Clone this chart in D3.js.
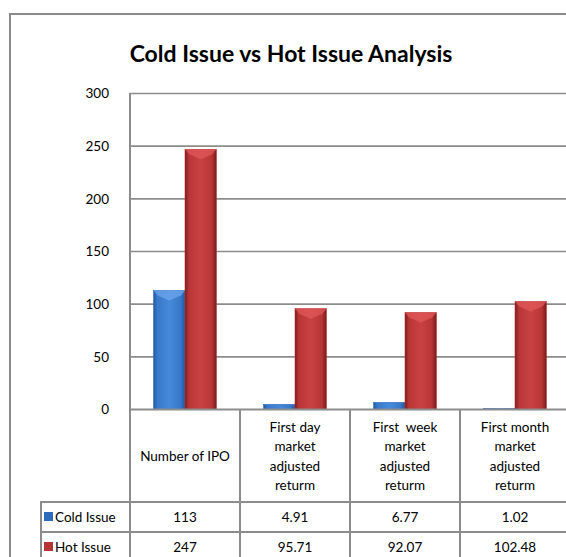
<!DOCTYPE html>
<html>
<head>
<meta charset="utf-8">
<script src="https://cdn.jsdelivr.net/npm/d3@7"></script>
<style>
  body { margin: 0; background: #fff; overflow: hidden; }
  text { font-family: Lato, "Open Sans", sans-serif; fill: #000; }
</style>
</head>
<body>
<div id="chart"></div>
<script>
// chart data
var categories = ["Number of IPO", "First day market adjusted returm",
                  "First  week market adjusted returm", "First month market adjusted returm"];
var headerLines = [["Number of IPO"],
                   ["First day", "market", "adjusted", "returm"],
                   ["First  week", "market", "adjusted", "returm"],
                   ["First month", "market", "adjusted", "returm"]];
var seriesNames = ["Cold Issue", "Hot Issue"];
var coldIssue = [113, 4.91, 6.77, 1.02];
var hotIssue = [247, 95.71, 92.07, 102.48];
var coldLabels = ["113", "4.91", "6.77", "1.02"];
var hotLabels = ["247", "95.71", "92.07", "102.48"];
var yTicks = [0, 50, 100, 150, 200, 250, 300];

var w = 566, h = 557;
var svg = d3.select("#chart").append("svg")
  .attr("width", w).attr("height", h);

var defs = svg.append("defs");
function grad(id, dark, mid, light) {
  var g = defs.append("linearGradient").attr("id", id)
    .attr("x1", 0).attr("x2", 1).attr("y1", 0).attr("y2", 0);
  g.append("stop").attr("offset", "0%").attr("stop-color", dark);
  g.append("stop").attr("offset", "12%").attr("stop-color", mid);
  g.append("stop").attr("offset", "50%").attr("stop-color", light);
  g.append("stop").attr("offset", "85%").attr("stop-color", mid);
  g.append("stop").attr("offset", "100%").attr("stop-color", dark);
}
grad("gBlue", "#24579e", "#3878c9", "#4689da");
grad("gRed", "#7a1a1a", "#b83536", "#c94242");
var colors = { "Cold Issue": "url(#gBlue)", "Hot Issue": "url(#gRed)" };
var caps = { "Cold Issue": "#6fa8ee", "Hot Issue": "#e25a5a" };
var swatch = { "Cold Issue": "#2f6bbd", "Hot Issue": "#b83535" };

// outer frame
svg.append("rect").attr("x", 10).attr("y", 14)
  .attr("width", 600).attr("height", 600)
  .attr("fill", "none").attr("stroke", "#8a8a8a").attr("stroke-width", 2);

svg.append("text").attr("x", 291).attr("y", 62)
  .attr("text-anchor", "middle")
  .style("font-size", "23px").style("font-weight", "bold")
  .text("Cold Issue vs Hot Issue Analysis");

var x0 = d3.scaleBand().domain(categories).range([130, 570]).padding(0);
var x1 = d3.scaleBand().domain(seriesNames).range([0, x0.bandwidth()])
  .paddingInner(0).paddingOuter(0.75);
var y = d3.scaleLinear().domain([0, 300]).range([409.5, 93.5]);

// gridlines
svg.append("g").selectAll("line").data(yTicks.filter(function(d) { return d > 0; }))
  .join("line")
  .attr("x1", 130).attr("x2", 570)
  .attr("y1", function(d) { return y(d); }).attr("y2", function(d) { return y(d); })
  .attr("stroke", "#8c8c8c").attr("stroke-width", 1.6);

// y axis labels
var yAxis = d3.axisLeft(y).tickValues(yTicks).tickSize(0).tickPadding(21);
var ya = svg.append("g").attr("transform", "translate(130,0)").call(yAxis);
ya.select(".domain").remove();
ya.selectAll("text").style("font-size", "13.5px").style("font-family", "Lato, 'Open Sans', sans-serif");

// bars
var rows = categories.map(function(c, i) {
  return [{ cat: c, s: "Cold Issue", v: coldIssue[i] }, { cat: c, s: "Hot Issue", v: hotIssue[i] }];
});
var bars = svg.append("g").selectAll("g").data(d3.merge(rows)).join("g");
bars.append("rect")
  .attr("x", function(d) { return x0(d.cat) + x1(d.s); })
  .attr("y", function(d) { return y(d.v); })
  .attr("width", x1.bandwidth())
  .attr("height", function(d) { return y(0) - y(d.v); })
  .attr("fill", function(d) { return colors[d.s]; })
  .attr("stroke", function(d) { return swatch[d.s]; }).attr("stroke-width", 0.6);
// bevel on top
bars.filter(function(d) { return y(0) - y(d.v) > 8; }).append("path")
  .attr("d", function(d) {
    var bx = x0(d.cat) + x1(d.s), bw = x1.bandwidth(), by = y(d.v);
    return "M" + bx + "," + by + "L" + (bx + bw) + "," + by +
      "L" + (bx + bw - 4) + "," + (by + 5) + "L" + (bx + bw / 2) + "," + (by + 10) +
      "L" + (bx + 4) + "," + (by + 5) + "Z";
  })
  .attr("fill", function(d) { return caps[d.s]; }).attr("opacity", 0.7);

// data table
var tbl = svg.append("g");
var lineC = "#8c8c8c";
tbl.append("line").attr("x1", 130).attr("x2", 570).attr("y1", y(0)).attr("y2", y(0))
  .attr("stroke", lineC).attr("stroke-width", 2);
tbl.append("line").attr("x1", 130).attr("x2", 130).attr("y1", 93).attr("y2", 560)
  .attr("stroke", lineC).attr("stroke-width", 2);
categories.forEach(function(c) {
  tbl.append("line").attr("x1", x0(c) + x0.bandwidth()).attr("x2", x0(c) + x0.bandwidth())
    .attr("y1", y(0)).attr("y2", 560).attr("stroke", lineC).attr("stroke-width", 2);
});
[502, 532].forEach(function(ry) {
  tbl.append("line").attr("x1", 40).attr("x2", 570).attr("y1", ry).attr("y2", ry)
    .attr("stroke", lineC).attr("stroke-width", 2);
});
tbl.append("line").attr("x1", 41).attr("x2", 41).attr("y1", 502).attr("y2", 560)
  .attr("stroke", lineC).attr("stroke-width", 2);

// header text
categories.forEach(function(c, i) {
  var lines = headerLines[i];
  var cy = (y(0) + 502) / 2, lh = 19.5;
  var t = tbl.append("text").attr("text-anchor", "middle")
    .attr("x", x0(c) + x0.bandwidth() / 2).style("font-size", "13.5px");
  lines.forEach(function(l, k) {
    t.append("tspan").attr("x", x0(c) + x0.bandwidth() / 2)
      .attr("y", cy + (k - (lines.length - 1) / 2) * lh + 5)
      .style("white-space", "pre").text(l);
  });
});

// value rows
[[coldLabels, 517], [hotLabels, 547]].forEach(function(r, j) {
  categories.forEach(function(c, i) {
    tbl.append("text").attr("text-anchor", "middle")
      .attr("x", x0(c) + x0.bandwidth() / 2).attr("y", r[1] + 5)
      .style("font-size", "13.5px").text(r[0][i]);
  });
  tbl.append("rect").attr("x", 44).attr("y", r[1] - 5).attr("width", 9).attr("height", 9)
    .attr("fill", swatch[seriesNames[j]]);
  tbl.append("text").attr("x", 55).attr("y", r[1] + 5)
    .style("font-size", "13.5px").text(seriesNames[j]);
});
</script>
</body>
</html>
